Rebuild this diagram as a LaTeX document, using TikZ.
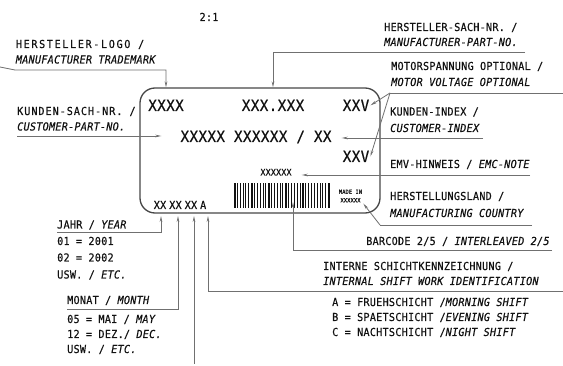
\documentclass[tikz,border=0pt]{standalone}
\usepackage{fontspec}
\usepackage{tikz}
\usetikzlibrary{
  arrows.meta,
  positioning,
  calc
}
\newfontfamily\lbmono[FakeStretch=0.92, LetterSpace=2.5, FakeBold=0.4]{DejaVu Sans Mono}
\newfontfamily\lbloose[FakeStretch=0.92, LetterSpace=15, FakeBold=0.4]{DejaVu Sans Mono}
\newfontfamily\lbspaced[FakeStretch=0.92, LetterSpace=9, FakeBold=0.4]{DejaVu Sans Mono}
\definecolor{lbInk}{HTML}{111111}
\definecolor{lbLine}{HTML}{707070}
\definecolor{lbFrame}{HTML}{474747}
\tikzset{
  lbtext/.style={font=\lbmono\fontsize{11}{12}\selectfont, text=lbInk, anchor=base west, inner sep=0pt},
  lbprint/.style={font=\lbmono\fontsize{15.5}{18}\selectfont, text=lbInk, anchor=base, inner sep=1pt},
  labelbox/.style={draw=lbFrame, line width=1.3pt, rounded corners=15pt,
    minimum width=240pt, minimum height=125pt, inner sep=0pt},
  leader/.style={lbLine, line width=0.8pt},
  pointer/.style={leader, -{Stealth[length=6pt, width=2.6pt]}}
}

\begin{document}
\begin{tikzpicture}[x=1pt, y=-1pt]
  \fill[white] (0,0) rectangle (563,366);
  \useasboundingbox (0,0) rectangle (563,366);

  \node[lbtext, anchor=base] (scale) at (209,21) {2:1};

  % the label itself
  \node[labelbox] (label) at (260,150.5) {};
  \node[lbprint] (xa) at (166,111) {XXXX};
  \node[lbprint] (xb) at (273,111) {XXX.XXX};
  \node[lbprint] (xc) at (356,111) {XXV};
  \node[lbprint] (xd) at (256,142) {XXXXX XXXXXX / XX};
  \node[lbprint] (xe) at (356,162) {XXV};
  \node[lbprint, font=\lbmono\fontsize{9}{10}\selectfont] (xf) at (276,175.5) {XXXXXX};
  \node[lbprint, font=\lbmono\fontsize{11}{13}\selectfont] (xg) at (180,209) {XX\hspace{3pt}XX\hspace{3pt}XX\hspace{3pt}A};
  \node[lbprint, anchor=center, align=center, font=\lbmono\fontsize{5.8}{8.5}\selectfont] (made) at (350.5,196) {MADE IN\\XXXXXX};

  % barcode
  \coordinate (barOrg) at (234,183);
  \foreach \i in {0,...,33}{
    \pgfmathsetmacro{\bw}{mod(\i,3)==0 ? 1.5 : 0.8}
    \fill[lbInk] ($(barOrg)+(\i*2.85,0)$) rectangle ++(\bw,25);
  }

  % texts, left side
  \node[lbtext] (logoDe) at (15.7,48) {\lbloose HERSTELLER-LOGO /};
  \node[lbtext] (logoEn) at (15.7,63.5) {\itshape MANUFACTURER TRADEMARK};
  \node[lbtext] (custDe) at (17,115) {\lbspaced KUNDEN-SACH-NR. /};
  \node[lbtext] (custEn) at (17,130.5) {\itshape CUSTOMER-PART-NO.};
  \node[lbtext] (year) at (57,228.5) {JAHR / \textit{YEAR}};
  \node[lbtext] (year1) at (57,245) {01 = 2001};
  \node[lbtext] (year2) at (57,261.5) {02 = 2002};
  \node[lbtext] (year3) at (57,278.5) {USW. / \textit{ETC.}};
  \node[lbtext] (month) at (67,304) {MONAT / \textit{MONTH}};
  \node[lbtext] (month1) at (67,323) {05 = MAI / \textit{MAY}};
  \node[lbtext] (month2) at (67,338) {12 = DEZ./ \textit{DEC.}};
  \node[lbtext] (month3) at (67,353) {USW. / \textit{ETC.}};

  % texts, right side
  \node[lbtext] (sachDe) at (384,31) {HERSTELLER-SACH-NR. /};
  \node[lbtext] (sachEn) at (384,46) {\itshape MANUFACTURER-PART-NO.};
  \node[lbtext] (motDe) at (391,70) {MOTORSPANNUNG OPTIONAL /};
  \node[lbtext] (motEn) at (391,86) {\itshape MOTOR VOLTAGE OPTIONAL};
  \node[lbtext] (idxDe) at (390,115.5) {KUNDEN-INDEX /};
  \node[lbtext] (idxEn) at (390,132) {\itshape CUSTOMER-INDEX};
  \node[lbtext] (emv) at (390,168) {EMV-HINWEIS / \textit{EMC-NOTE}};
  \node[lbtext] (landDe) at (390,200) {HERSTELLUNGSLAND /};
  \node[lbtext] (landEn) at (390,217) {\itshape MANUFACTURING COUNTRY};
  \node[lbtext, anchor=base east] (barTxt) at (550,245) {BARCODE 2/5 / \textit{INTERLEAVED 2/5}};
  \node[lbtext] (shiftDe) at (323,270) {INTERNE SCHICHTKENNZEICHNUNG /};
  \node[lbtext] (shiftEn) at (323,285) {\itshape INTERNAL SHIFT WORK IDENTIFICATION};
  \node[lbtext] (shiftA) at (332,306) {A = FRUEHSCHICHT /\textit{MORNING SHIFT}};
  \node[lbtext] (shiftB) at (332,321) {B = SPAETSCHICHT /\textit{EVENING SHIFT}};
  \node[lbtext] (shiftC) at (332,336) {C = NACHTSCHICHT /\textit{NIGHT SHIFT}};

  % leaders
  \coordinate (logoEnd) at (0,67);
  \coordinate (logoKnee) at (15,70);
  \draw[pointer] (logoEnd) -- (logoKnee) -| (xa |- label.north);
  \coordinate (sachEnd) at (525,52);
  \draw[pointer] (sachEnd) -| (xb |- label.north);
  \coordinate (motEnd) at (563,93);
  \coordinate (motKnee) at (390,93);
  \draw[leader] (motEnd) -- (motKnee);
  \draw[pointer] (motKnee) -- (xc.east);
  \draw[pointer] (motKnee) -- (xe.east);
  \coordinate (idxEnd) at (483,138);
  \draw[pointer, shorten >=9pt] (idxEnd) -- (idxEnd -| xd.east);
  \coordinate (custEnd) at (17,136);
  \draw[pointer, shorten >=18pt] (custEnd) -- (custEnd -| xd.west);
  \coordinate (emvEnd) at (530,175);
  \draw[pointer, shorten >=9pt] (emvEnd) -- (emvEnd -| xf.east);
  \coordinate (landEnd) at (532,225);
  \coordinate (landKnee) at (380,225);
  \draw[leader] (landEnd) -- (landKnee);
  \draw[pointer] (landKnee) -- (made.south east);
  \coordinate (barEnd) at (552,250);
  \coordinate (barTip) at (293,202);
  \draw[pointer] (barEnd) -| (barTip);

  \coordinate (yearEnd) at (57,232);
  \coordinate (yearTip) at (161,216);
  \draw[pointer] (yearEnd) -| (yearTip);
  \coordinate (monthEnd) at (67,309);
  \coordinate (monthTip) at (178,216);
  \draw[pointer] (monthEnd) -| (monthTip);
  \coordinate (serialEnd) at (194,364);
  \coordinate (serialTip) at (194,216);
  \draw[pointer] (serialEnd) -- (serialTip);
  \coordinate (shiftEnd) at (563,291);
  \coordinate (shiftTip) at (208,216);
  \draw[pointer] (shiftEnd) -| (shiftTip);
\end{tikzpicture}
\end{document}
